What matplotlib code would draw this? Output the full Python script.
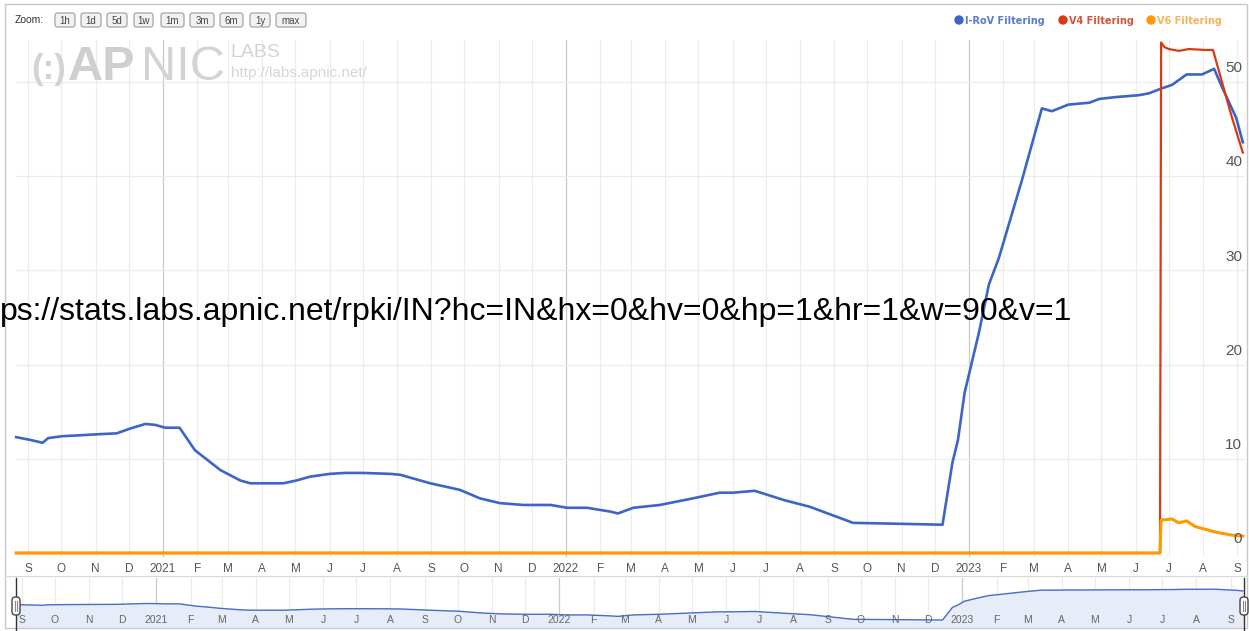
import matplotlib
matplotlib.use('Agg')
import matplotlib.pyplot as plt
import matplotlib.dates as mdates
from matplotlib.patches import FancyBboxPatch, Rectangle, Circle
import numpy as np
import pandas as pd

W, H = 1249, 631

# --- data ---
irov_dates = ['2020-08-21', '2020-09-03', '2020-09-14', '2020-09-19', '2020-10-02', '2020-10-18',
              '2020-11-02', '2020-11-20', '2020-12-02', '2020-12-16', '2020-12-25', '2021-01-03',
              '2021-01-16', '2021-01-30', '2021-02-10', '2021-02-22', '2021-03-12', '2021-03-21',
              '2021-04-20', '2021-05-02', '2021-05-14', '2021-06-01', '2021-06-15', '2021-07-01',
              '2021-07-26', '2021-08-04', '2021-08-31', '2021-09-27', '2021-10-15', '2021-11-02',
              '2021-11-23', '2021-12-18', '2022-01-02', '2022-01-20', '2022-02-10', '2022-02-17',
              '2022-03-03', '2022-03-27', '2022-04-26', '2022-05-20', '2022-06-01', '2022-06-21',
              '2022-07-18', '2022-08-10', '2022-09-18', '2022-10-31', '2022-12-08', '2022-12-17',
              '2022-12-22', '2022-12-28', '2023-01-10', '2023-01-19', '2023-01-28', '2023-02-18',
              '2023-03-08', '2023-03-17', '2023-04-01', '2023-04-20', '2023-04-29', '2023-05-14',
              '2023-06-04', '2023-06-13', '2023-06-24', '2023-07-04', '2023-07-17', '2023-07-31',
              '2023-08-11', '2023-08-18', '2023-08-31', '2023-09-06']
irov_vals = [12.3, 12.0, 11.7, 12.2, 12.4, 12.5,
             12.6, 12.7, 13.2, 13.7, 13.6, 13.3,
             13.3, 10.9, 9.9, 8.8, 7.7, 7.4,
             7.4, 7.7, 8.1, 8.4, 8.5, 8.5,
             8.4, 8.3, 7.4, 6.7, 5.8, 5.3,
             5.1, 5.1, 4.8, 4.8, 4.4, 4.2,
             4.8, 5.1, 5.8, 6.4, 6.4, 6.6,
             5.6, 4.9, 3.2, 3.1, 3.0, 9.6,
             12.0, 17.0, 23.4, 28.5, 31.3, 39.6,
             47.2, 46.9, 47.6, 47.8, 48.2, 48.4,
             48.6, 48.8, 49.3, 49.7, 50.8, 50.8,
             51.4, 49.5, 46.2, 43.6]

v4_dates = ['2020-08-21', '2023-06-23', '2023-06-24', '2023-06-27', '2023-07-01', '2023-07-10',
            '2023-07-19', '2023-08-03', '2023-08-10', '2023-08-27', '2023-09-06']
v4_vals = [0, 0, 54.2, 53.7, 53.5, 53.3, 53.5, 53.4, 53.4, 46.3, 42.5]

v6_dates = ['2020-08-21', '2023-06-23', '2023-06-24', '2023-07-04', '2023-07-10', '2023-07-17',
            '2023-07-25', '2023-08-13', '2023-08-27', '2023-09-06']
v6_vals = [0, 0, 3.5, 3.6, 3.2, 3.4, 2.8, 2.2, 1.9, 1.8]

series_names = ['I-RoV Filtering', 'V4 Filtering', 'V6 Filtering']
series_colors = ['#3d64c8', '#dc3912', '#ff9900']
legend_text_colors = ['#5b79cf', '#d8533a', '#f7b25a']
y_ticks = [0, 10, 20, 30, 40, 50]
zoom_buttons = ['1h', '1d', '5d', '1w', '1m', '3m', '6m', '1y', 'max']
url_text = 'ps://stats.labs.apnic.net/rpki/IN?hc=IN&hx=0&hv=0&hp=1&hr=1&w=90&v=1'
month_letters = ['J', 'F', 'M', 'A', 'M', 'J', 'J', 'A', 'S', 'O', 'N', 'D']

plt.rcParams['font.family'] = ['Liberation Sans', 'DejaVu Sans']

def box(x0, y0, x1, y1):
    # pixel box (top-left origin) -> figure fraction rect
    return [x0 / W, 1 - y1 / H, (x1 - x0) / W, (y1 - y0) / H]

fig = plt.figure(figsize=(W / 100, H / 100), dpi=100)
fig.patch.set_facecolor('white')

t0 = mdates.date2num(pd.Timestamp('2021-01-01'))
t2 = mdates.date2num(pd.Timestamp('2023-01-01'))
ppd = (969 - 163) / (t2 - t0)
xlim = (t0 - (163 - 16) / ppd, t2 + (1245 - 969) / ppd)

months = pd.date_range('2020-09-01', '2023-09-01', freq='MS')

# --- main chart ---
ax = fig.add_axes(box(16, 40, 1245, 557))
ax.set_xlim(*xlim)
ax.set_ylim(-(557 - 553) / 9.42, (553 - 40) / 9.42)
for s in ax.spines.values():
    s.set_visible(False)
ax.set_yticks([])
for m in months:
    ax.axvline(m, color='#c9c9c9' if m.month == 1 else '#ececec', lw=0.9, zorder=0)
for v in y_ticks[1:]:
    ax.axhline(v, color='#ececec', lw=0.9, zorder=0)
ax.set_xticks(months)
ax.set_xticklabels([str(m.year) if m.month == 1 else month_letters[m.month - 1] for m in months],
                   fontsize=8.5, color='#555555')
ax.tick_params(axis='x', length=0, pad=4)

all_dates = [irov_dates, v4_dates, v6_dates]
all_vals = [irov_vals, v4_vals, v6_vals]
widths = [1.9, 1.6, 2.2]
for i in range(3):
    ax.plot(pd.to_datetime(all_dates[i]), all_vals[i], color=series_colors[i], lw=widths[i],
            zorder=3 + i, solid_joinstyle='round', clip_on=False)

for v in y_ticks:
    ax.annotate(str(v), xy=(1, v), xycoords=('axes fraction', 'data'), xytext=(-2, 10),
                textcoords='offset points', ha='right', va='center', fontsize=11, color='#555555',
                zorder=10)

# --- navigator ---
nav = fig.add_axes(box(16, 578, 1245, 628))
nav.set_xlim(*xlim)
nav.set_yscale('log')
nav.set_ylim(1.44, 143.6)
for s in nav.spines.values():
    s.set_visible(False)
nav.set_xticks([])
nav.set_yticks([])
nav.minorticks_off()
for m in months:
    nav.axvline(m - pd.Timedelta(days=6), color='#c9c9c9' if m.month == 1 else '#ececec', lw=0.9, zorder=0)
    nav.annotate(str(m.year) if m.month == 1 else month_letters[m.month - 1],
                 xy=(m - pd.Timedelta(days=6), 0), xycoords=('data', 'axes fraction'),
                 xytext=(0, 5.5), textcoords='offset points', ha='center', va='center',
                 fontsize=7.5, color='#666666')
nd = pd.to_datetime(irov_dates)
nav.fill_between(nd, irov_vals, 1.0, color='#e6ecf8', zorder=1)
nav.plot(nd, irov_vals, color='#4a6cc9', lw=1.0, zorder=2)

# --- overlay in pixel coordinates ---
ov = fig.add_axes([0, 0, 1, 1])
ov.set_xlim(0, W)
ov.set_ylim(H, 0)
ov.axis('off')
ov.add_patch(Rectangle((5, 4), 1242, 624, fill=False, ec='#c8c8c8', lw=1))
ov.plot([5, 1247], [576, 576], color='#d8d8d8', lw=0.8)

ov.text(15, 20, 'Zoom:', fontsize=7.5, color='#333333', va='center')
bx = [55, 81, 107, 134, 161, 190, 220, 250, 276]
bw = [20, 20, 20, 19, 23, 24, 23, 20, 30]
for lab, x0, w in zip(zoom_buttons, bx, bw):
    ov.add_patch(FancyBboxPatch((x0, 13), w, 14, boxstyle='round,pad=0,rounding_size=2.5',
                                fc='#f2f2f2', ec='#9a9a9a', lw=0.8))
    ov.text(x0 + w / 2, 20.5, lab, fontsize=7, color='#444444', ha='center', va='center')

# watermark
ov.text(31, 79, '(:)', fontsize=25, color='#d3d3d3', fontweight='bold', va='baseline')
ov.text(68, 80, 'AP', fontsize=35, color='#cfcfcf', fontweight='bold', va='baseline')
ov.text(141, 80, 'NIC', fontsize=35, color='#d3d3d3', va='baseline')
ov.text(230, 57, 'LABS', fontsize=14, color='#d3d3d3', va='baseline')
ov.text(231, 77, 'http://labs.apnic.net/', fontsize=11, color='#d6d6d6', va='baseline')

# legend
lx = [959, 1063, 1151]
for i in range(3):
    ov.add_patch(Circle((lx[i], 20), 4, color=series_colors[i]))
    ov.text(lx[i] + 6, 20.5, series_names[i], fontsize=7, color=legend_text_colors[i],
            va='center', fontweight='bold', family=['DejaVu Sans'])

# handles
for hx in [16, 1244]:
    ov.plot([hx, hx], [578, 631], color='#333333', lw=1)
    ov.add_patch(FancyBboxPatch((hx - 4, 597), 8, 18, boxstyle='round,pad=0,rounding_size=3.5',
                                fc='white', ec='#444444', lw=1, zorder=5))
    ov.plot([hx - 1, hx - 1], [601, 611], color='#888888', lw=0.8, zorder=6)
    ov.plot([hx + 1, hx + 1], [601, 611], color='#888888', lw=0.8, zorder=6)

ov.text(0, 320, url_text, fontsize=23, color='black', va='baseline', ha='left')

fig.savefig('out.png', dpi=100)
